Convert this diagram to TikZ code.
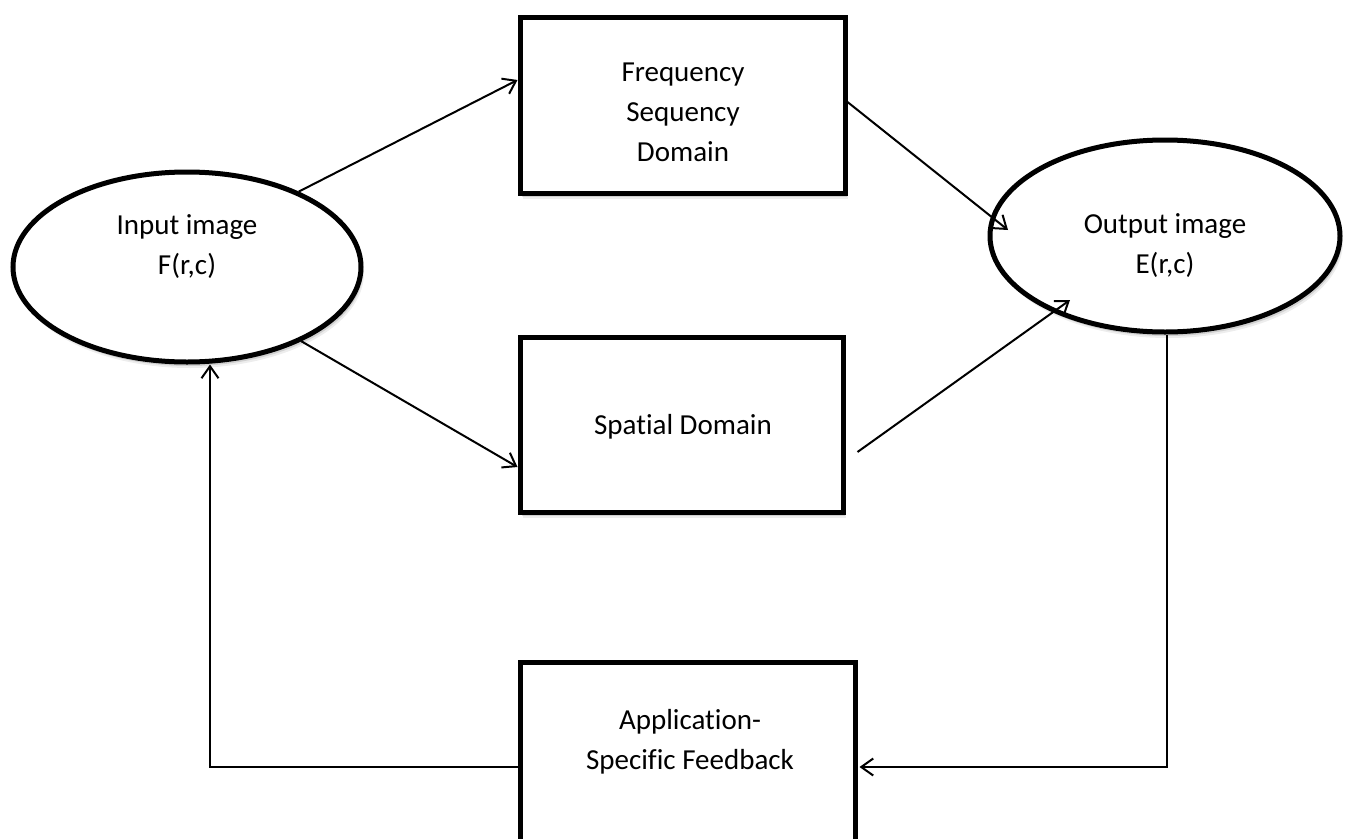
\documentclass[tikz,border=0pt]{standalone}
\usepackage{fontspec}
\setmainfont[Ligatures=NoCommon]{Carlito}
\usetikzlibrary{arrows.meta,shapes.geometric,shadows}
\begin{document}
\begin{tikzpicture}[x=1pt,y=-1pt,
  softshadow/.style={
    drop shadow={shadow xshift=1pt,shadow yshift=-2pt,opacity=0.18,fill=black},
    drop shadow={shadow xshift=2pt,shadow yshift=-4pt,opacity=0.12,fill=black},
    drop shadow={shadow xshift=3pt,shadow yshift=-6pt,opacity=0.07,fill=black}},
  blockbox/.style={draw=black,fill=white,line width=5pt,rectangle,inner sep=0pt,softshadow},
  imgoval/.style={draw=black,fill=white,line width=5pt,ellipse,inner sep=0pt,softshadow},
  caption/.style={font=\fontsize{29}{40}\selectfont,align=center,inner sep=0pt},
  flow/.style={line width=2pt,-{Straight Barb[length=12pt,width=17pt]}}]
\useasboundingbox (0,0) rectangle (1349,838);
\clip (0,0) rectangle (1349,838);

% image ovals
\node[imgoval,minimum width=348pt,minimum height=190pt] (in) at (187,267) {};
\node[imgoval,minimum width=350pt,minimum height=192pt] (out) at (1165,236) {};

% processing blocks
\node[blockbox,minimum width=325pt,minimum height=176pt] (freq) at (682.5,105) {};
\node[blockbox,minimum width=323pt,minimum height=175pt] (spat) at (681.5,424.5) {};
\node[blockbox,minimum width=335pt,minimum height=200pt] (fb) at (687.5,762) {};

% captions
\node[caption] (intext) at (187,247) {Input image\\F(r,c)};
\node[caption] (outtext) at (1165,246) {Output image\\E(r,c)};
\node[caption] (freqtext) at (683,112) {Frequency\\Sequency\\Domain};
\node[caption] (spattext) at (683,427) {Spatial Domain};
\node[caption] (fbtext) at (690,742) {Application-\\Specific Feedback};

% connectors
\draw[flow] (in.34) -- ([yshift=25pt]freq.west);
\draw[flow] (in.-33) -- ([yshift=-42.5pt]spat.west);
\draw[flow] ([yshift=3pt]freq.east) -- ([xshift=-157pt,yshift=6pt]out.center);
\draw[flow] ([xshift=12pt,yshift=-27.5pt]spat.east) -- ([xshift=-95pt,yshift=-64pt]out.center);
\draw[flow] ([xshift=2pt]out.south) |- ([xshift=2pt,yshift=-5pt]fb.east);
\draw[flow] ([yshift=-5pt]fb.west) -| ([xshift=23pt]in.south);
\end{tikzpicture}
\end{document}
